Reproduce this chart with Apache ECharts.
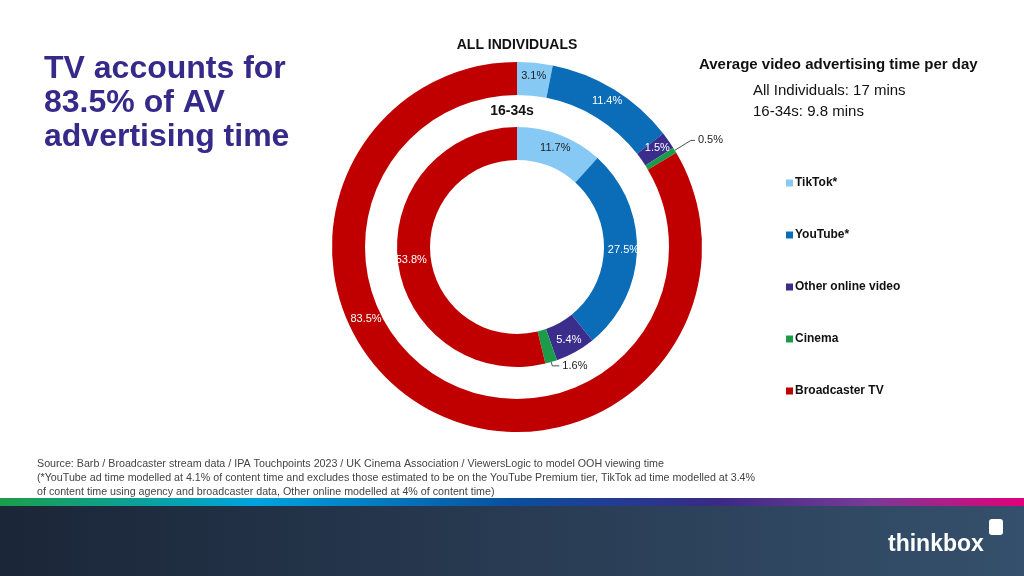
<!DOCTYPE html>
<html><head><meta charset="utf-8">
<script src="https://cdn.jsdelivr.net/npm/echarts@6/dist/echarts.min.js"></script>
<style>html,body{margin:0;padding:0;background:#fff}#c{width:1024px;height:576px}</style>
</head><body><div id="c"></div>
<script>
const categories = ['TikTok*', 'YouTube*', 'Other online video', 'Cinema', 'Broadcaster TV'];
const allIndividuals = [3.1, 11.4, 1.5, 0.5, 83.5];
const age1634 = [11.7, 27.5, 5.4, 1.6, 53.8];
const colors = ['#85C9F4', '#0B6CB8', '#3B2D8C', '#1C9C4A', '#C00000'];
const labelColors = ['#222', '#fff', '#fff', '#222', '#fff'];

const F = 'Liberation Sans, Arial, sans-serif';

function buildData(vals, outerLen, outerLen2) {
  return vals.map((v, i) => {
    const item = { value: v, name: categories[i], itemStyle: { color: colors[i] },
      label: { color: labelColors[i] } };
    if (i === 3) {
      item.label = { position: 'outside', color: '#222', distanceToLabelLine: 3 };
      item.labelLine = { show: true, length: outerLen, length2: outerLen2, lineStyle: { color: '#222', width: 0.8 } };
    }
    return item;
  });
}

const pieBase = {
  type: 'pie', center: [517, 247], startAngle: 90, clockwise: true,
  avoidLabelOverlap: false, silent: true,
  label: { show: true, position: 'inside', formatter: p => p.value.toFixed(1) + '%', fontFamily: F, fontSize: 11 },
  labelLine: { show: false },
  emphasis: { disabled: true }
};

const chart = echarts.init(document.getElementById('c'), null, { renderer: 'canvas' });
chart.setOption({
  animation: false,
  title: [
    { text: 'TV accounts for\n83.5% of AV\nadvertising time', left: 44, top: 52, padding: 0,
      textStyle: { color: '#35298A', fontFamily: F, fontSize: 32, fontWeight: 'bold', lineHeight: 34 } },
    { text: 'ALL INDIVIDUALS', left: 517, top: 38, padding: 0, textAlign: 'center',
      textStyle: { color: '#111', fontFamily: F, fontSize: 14, fontWeight: 'bold' } },
    { text: '16-34s', left: 512, top: 104, padding: 0, textAlign: 'center',
      textStyle: { color: '#111', fontFamily: F, fontSize: 14, fontWeight: 'bold' } },
    { text: 'Average video advertising time per day', left: 699, top: 57, padding: 0,
      textStyle: { color: '#111', fontFamily: F, fontSize: 15, fontWeight: 'bold' } },
    { text: 'All Individuals: 17 mins\n16-34s: 9.8 mins', left: 753, top: 80.5, padding: 0,
      textStyle: { color: '#111', fontFamily: F, fontSize: 15, fontWeight: 'normal', lineHeight: 21 } },
    { text: 'Source: Barb / Broadcaster stream data / IPA Touchpoints 2023 / UK Cinema Association / ViewersLogic to model OOH viewing time\n(*YouTube ad time modelled at 4.1% of content time and excludes those estimated to be on the YouTube Premium tier, TikTok ad time modelled at 3.4%\nof content time using agency and broadcaster data, Other online modelled at 4% of content time)',
      left: 37, top: 457.5, padding: 0,
      textStyle: { color: '#444', fontFamily: F, fontSize: 10.7, fontWeight: 'normal', lineHeight: 13.7 } }
  ],
  legend: {
    orient: 'vertical', left: 786, top: 177, padding: 0, itemWidth: 7, itemHeight: 7, itemGap: 40,
    icon: 'rect', data: categories, selectedMode: false,
    textStyle: { fontFamily: F, fontSize: 12, fontWeight: 'bold', color: '#111', padding: [0, 0, 0, -3] }
  },
  series: [
    Object.assign({}, pieBase, { name: 'All individuals', radius: [152, 185], data: buildData(allIndividuals, 19, 4),
      labelLayout: function (p) {
        if (p.dataIndex === 4) {
          const r = p.labelRect;
          return { x: r.x + r.width / 2 - 66, y: r.y + r.height / 2 - 77, align: 'center', verticalAlign: 'middle' };
        }
        return {};
      } }),
    Object.assign({}, pieBase, { name: '16-34s', radius: [87, 120], data: buildData(age1634, 4, 7) })
  ],
  graphic: [
    { type: 'rect', left: 0, top: 498, shape: { width: 1024, height: 8 }, silent: true,
      style: { fill: new echarts.graphic.LinearGradient(0, 0, 1, 0, [
        { offset: 0, color: '#1A9E4A' }, { offset: 0.25, color: '#00A3DF' },
        { offset: 0.5, color: '#0A4F9E' }, { offset: 0.7, color: '#3A2A85' },
        { offset: 0.85, color: '#7A3A98' }, { offset: 1, color: '#E2007A' }]) } },
    { type: 'rect', left: 0, top: 506, shape: { width: 1024, height: 70 }, silent: true,
      style: { fill: new echarts.graphic.LinearGradient(0, 0, 1, 0, [
        { offset: 0, color: '#1B2638' }, { offset: 1, color: '#35506C' }]) } },
    { type: 'text', left: 888, top: 533, silent: true,
      style: { text: 'thinkbox', fill: '#fff', font: 'bold 23px Liberation Sans, Arial' } },
    { type: 'rect', left: 989, top: 519, shape: { width: 14, height: 16, r: 3 }, silent: true,
      style: { fill: '#fff' } }
  ]
});
</script></body></html>
